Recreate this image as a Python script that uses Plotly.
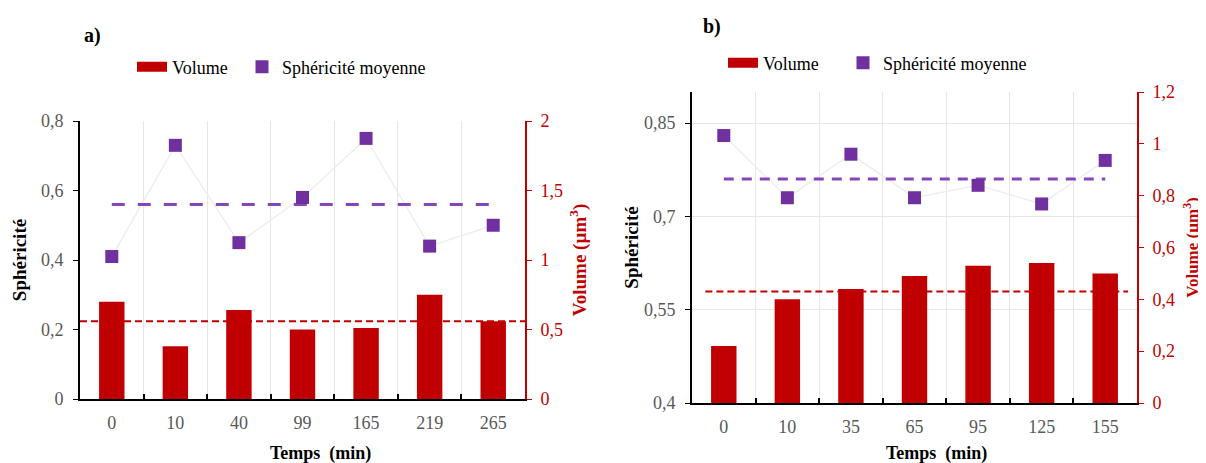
import plotly.graph_objects as go

# ---- data ----
temps_a = ["0", "10", "40", "99", "165", "219", "265"]
volume_a = [0.70, 0.38, 0.64, 0.50, 0.51, 0.75, 0.56]
sphericite_a = [0.41, 0.73, 0.45, 0.58, 0.75, 0.44, 0.50]
mean_sph_a = 0.56
mean_vol_a = 0.56

temps_b = ["0", "10", "35", "65", "95", "125", "155"]
volume_b = [0.22, 0.40, 0.44, 0.49, 0.53, 0.54, 0.50]
sphericite_b = [0.83, 0.73, 0.80, 0.73, 0.75, 0.72, 0.79]
mean_sph_b = 0.76
mean_vol_b = 0.43

RED = "#C00000"
PURPLE = "#7030A0"
PURPLE_DASH = "#8547B8"
FONT = "'Liberation Serif', 'Times New Roman', serif"
TICKC = "#595959"

# page has an 8px body margin: size the figure so that it fits the 1206x463 window
OFF = 8
W, H = 1206 - OFF, 463 - OFF
def px_x(p): return (p - OFF) / W
def px_y(p): return (H - (p - OFF)) / H

fig = go.Figure()

def add_panel(cats, vol, sph, msph, xa, ya, ya2, leg_v, leg_s, dash):
    fig.add_trace(go.Scatter(x=cats, y=sph, mode="lines", xaxis=xa, yaxis=ya,
                             line=dict(color="#EEEEEE", width=1.5), showlegend=False, hoverinfo="skip"))
    fig.add_trace(go.Scatter(x=[cats[0], cats[-1]], y=[msph, msph], mode="lines", xaxis=xa, yaxis=ya,
                             line=dict(color=PURPLE_DASH, width=3, dash=dash), showlegend=False))
    fig.add_trace(go.Bar(x=cats, y=vol, xaxis=xa, yaxis=ya2, marker=dict(color=RED, line=dict(width=0)),
                         width=0.4, showlegend=False, name="Volume"))
    fig.add_trace(go.Scatter(x=[None], y=[None], mode="lines", xaxis=xa, yaxis=ya2,
                             line=dict(color=RED, width=13), name="Volume", legend=leg_v))
    fig.add_trace(go.Scatter(x=cats, y=sph, mode="markers", xaxis=xa, yaxis=ya,
                             marker=dict(symbol="square", size=13, color=PURPLE),
                             name="Sphéricité moyenne", legend=leg_s))

add_panel(temps_a, volume_a, sphericite_a, mean_sph_a, "x", "y", "y2", "legend", "legend2", "13px,13px")
add_panel(temps_b, volume_b, sphericite_b, mean_sph_b, "x2", "y3", "y4", "legend3", "legend4", "10px,8px")

xa_dom = [px_x(80), px_x(525)]
ya_dom = [px_y(399), px_y(121)]
xb_dom = [px_x(692), px_x(1137)]
yb_dom = [px_y(403), px_y(92)]

fig.add_shape(type="line", xref="x domain", yref="y2", x0=0, x1=1, y0=mean_vol_a, y1=mean_vol_a,
              line=dict(color=RED, width=2, dash="7px,4px"))
fig.add_shape(type="line", xref="x2 domain", yref="y4", x0=0.03, x1=0.98, y0=mean_vol_b, y1=mean_vol_b,
              line=dict(color=RED, width=2, dash="7px,4px"))

xcommon = dict(type="category", tickson="boundaries", ticks="inside", ticklen=5, tickwidth=1.5,
               tickcolor="black", showline=True, linecolor="black", linewidth=2,
               showgrid=True, gridcolor="#E6E6E6", gridwidth=1, ticklabelstandoff=6,
               tickfont=dict(family=FONT, size=18, color=TICKC),
               automargin=False, zeroline=False)

ycommon = dict(showline=True, linewidth=2, ticks="outside", ticklen=5, zeroline=False, automargin=False)

def leg(xp, yp):
    return dict(orientation="h", x=px_x(xp), xanchor="left", y=px_y(yp), yanchor="middle",
                font=dict(family=FONT, size=18, color="black"), bgcolor="rgba(0,0,0,0)",
                borderwidth=0, tracegroupgap=0)

def note(text, xp, yp, size, color="black"):
    return dict(text=text, x=px_x(xp), y=px_y(yp), xref="paper", yref="paper", showarrow=False,
                xanchor="center", yanchor="middle", font=dict(family=FONT, size=size, color=color))

fig.update_layout(
    width=W, height=H, margin=dict(l=0, r=0, t=0, b=0),
    paper_bgcolor="white", plot_bgcolor="white", separators=", ",
    font=dict(family=FONT, size=18),
    barmode="overlay",
    xaxis=dict(domain=xa_dom, anchor="y", categoryorder="array", categoryarray=temps_a, **xcommon),
    xaxis2=dict(domain=xb_dom, anchor="y3", categoryorder="array", categoryarray=temps_b, **xcommon),
    yaxis=dict(domain=ya_dom, anchor="x", range=[0, 0.8], tickvals=[0, 0.2, 0.4, 0.6, 0.8],
               linecolor="black", tickcolor="black", showgrid=False, ticklabelstandoff=6,
               tickfont=dict(family=FONT, size=18, color=TICKC),
               title=dict(text="<b>Sphéricité</b>", font=dict(family=FONT, size=19, color="black"), standoff=9),
               **ycommon),
    yaxis2=dict(overlaying="y", anchor="x", side="right", range=[0, 2], tickvals=[0, 0.5, 1, 1.5, 2],
                linecolor=RED, tickcolor=RED, showgrid=False, ticklabelstandoff=5,
                tickfont=dict(family=FONT, size=18, color=RED),
                title=dict(text="<b>Volume (µm<sup>3</sup>)</b>", font=dict(family=FONT, size=19, color=RED), standoff=11),
                **ycommon),
    yaxis3=dict(domain=yb_dom, anchor="x2", range=[0.4, 0.9], tickvals=[0.4, 0.55, 0.7, 0.85],
                linecolor="black", tickcolor="black", showgrid=True, gridcolor="#E6E6E6", ticklabelstandoff=6,
                tickfont=dict(family=FONT, size=18, color=TICKC),
                title=dict(text="<b>Sphéricité</b>", font=dict(family=FONT, size=19, color="black"), standoff=0),
                **ycommon),
    yaxis4=dict(overlaying="y3", anchor="x2", side="right", range=[0, 1.2],
                tickvals=[0, 0.2, 0.4, 0.6, 0.8, 1, 1.2],
                linecolor=RED, tickcolor=RED, showgrid=False, ticklabelstandoff=5,
                tickfont=dict(family=FONT, size=18, color=RED),
                title=dict(text="<b>Volume (µm<sup>3</sup>)</b>", font=dict(family=FONT, size=17, color=RED), standoff=12),
                **ycommon),
    legend=leg(132, 67),
    legend2=leg(242, 67),
    legend3=leg(723, 63),
    legend4=leg(843, 63),
    annotations=[
        note("<b>a)</b>", 93, 35, 20),
        note("<b>b)</b>", 712, 27, 20),
        note("<b>Temps&nbsp;&nbsp;(min)</b>", 320, 453, 18),
        note("<b>Temps&nbsp;&nbsp;(min)</b>", 936, 453, 18),
    ],
)

fig.write_html("out.html")
